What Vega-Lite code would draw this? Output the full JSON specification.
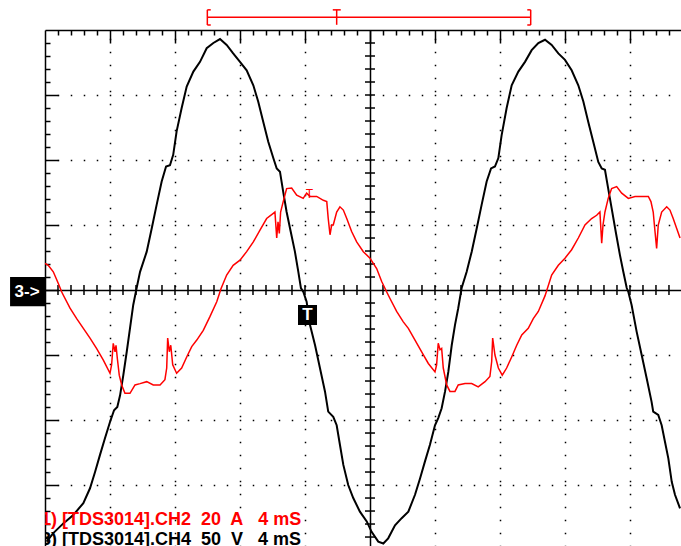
{
"$schema":"https://vega.github.io/schema/vega-lite/v6.json",
"width":636,"height":516,
"autosize":{"type":"none"},
"padding":{"left":45,"top":30,"right":0,"bottom":0},
"background":"white",
"config":{"view":{"stroke":null}},
"datasets":{
"black":[
{"t":0.10,"y":-3.87},{"t":0.51,"y":-3.74},{"t":1.13,"y":-3.59},{"t":1.74,"y":-3.46},{"t":2.36,"y":-3.28},{"t":2.77,"y":-3.05},{"t":3.08,"y":-2.80},{"t":3.38,"y":-2.54},{"t":3.69,"y":-2.28},{"t":4.00,"y":-2.03},{"t":4.25,"y":-1.85},{"t":4.45,"y":-1.80},{"t":4.62,"y":-1.62},{"t":4.82,"y":-1.31},{"t":5.03,"y":-0.95},{"t":5.23,"y":-0.59},{"t":5.43,"y":-0.23},{"t":5.64,"y":0.03},{"t":5.85,"y":0.28},{"t":6.26,"y":0.59},{"t":6.57,"y":0.95},{"t":6.87,"y":1.31},{"t":7.18,"y":1.67},{"t":7.45,"y":1.90},{"t":7.69,"y":1.92},{"t":7.89,"y":2.08},{"t":8.10,"y":2.44},{"t":8.41,"y":2.80},{"t":8.72,"y":3.13},{"t":9.13,"y":3.36},{"t":9.54,"y":3.51},{"t":9.95,"y":3.72},{"t":10.36,"y":3.80},{"t":10.77,"y":3.86},{"t":11.18,"y":3.77},{"t":11.58,"y":3.64},{"t":12.00,"y":3.51},{"t":12.41,"y":3.38},{"t":12.82,"y":3.15},{"t":13.12,"y":2.90},{"t":13.43,"y":2.59},{"t":13.74,"y":2.28},{"t":14.05,"y":2.03},{"t":14.26,"y":1.87},{"t":14.46,"y":1.82},{"t":14.66,"y":1.51},{"t":14.87,"y":1.20},{"t":15.12,"y":0.90},{"t":15.38,"y":0.59},{"t":15.59,"y":0.28},{"t":15.75,"y":0.03},{"t":15.90,"y":-0.03},{"t":16.10,"y":-0.18},{"t":16.31,"y":-0.54},{"t":16.62,"y":-0.85},{"t":16.92,"y":-1.20},{"t":17.23,"y":-1.56},{"t":17.43,"y":-1.87},{"t":17.74,"y":-1.95},{"t":17.95,"y":-2.08},{"t":18.15,"y":-2.38},{"t":18.36,"y":-2.69},{"t":18.66,"y":-3.00},{"t":18.97,"y":-3.20},{"t":19.38,"y":-3.41},{"t":19.80,"y":-3.56},{"t":20.10,"y":-3.72},{"t":20.51,"y":-3.87},{"t":20.82,"y":-3.90},{"t":21.12,"y":-3.82},{"t":21.54,"y":-3.62},{"t":21.95,"y":-3.51},{"t":22.36,"y":-3.41},{"t":22.77,"y":-3.15},{"t":23.08,"y":-2.90},{"t":23.38,"y":-2.64},{"t":23.69,"y":-2.38},{"t":24.00,"y":-2.08},{"t":24.20,"y":-1.97},{"t":24.41,"y":-1.82},{"t":24.62,"y":-1.56},{"t":24.82,"y":-1.26},{"t":25.03,"y":-0.85},{"t":25.23,"y":-0.54},{"t":25.43,"y":-0.28},{"t":25.64,"y":0.03},{"t":25.95,"y":0.28},{"t":26.26,"y":0.59},{"t":26.57,"y":0.95},{"t":26.87,"y":1.31},{"t":27.18,"y":1.67},{"t":27.45,"y":1.87},{"t":27.69,"y":1.90},{"t":27.90,"y":2.03},{"t":28.10,"y":2.38},{"t":28.41,"y":2.80},{"t":28.72,"y":3.15},{"t":29.13,"y":3.36},{"t":29.54,"y":3.51},{"t":29.95,"y":3.69},{"t":30.36,"y":3.80},{"t":30.77,"y":3.85},{"t":31.18,"y":3.77},{"t":31.59,"y":3.64},{"t":32.00,"y":3.54},{"t":32.41,"y":3.38},{"t":32.82,"y":3.15},{"t":33.13,"y":2.90},{"t":33.43,"y":2.59},{"t":33.74,"y":2.28},{"t":34.05,"y":1.97},{"t":34.26,"y":1.87},{"t":34.46,"y":1.85},{"t":34.66,"y":1.56},{"t":34.87,"y":1.26},{"t":35.12,"y":0.90},{"t":35.38,"y":0.54},{"t":35.59,"y":0.28},{"t":35.80,"y":0.03},{"t":35.90,"y":-0.03},{"t":36.10,"y":-0.23},{"t":36.41,"y":-0.64},{"t":36.72,"y":-1.00},{"t":37.03,"y":-1.36},{"t":37.33,"y":-1.72},{"t":37.43,"y":-1.87},{"t":37.74,"y":-1.92},{"t":37.95,"y":-2.08},{"t":38.15,"y":-2.33},{"t":38.36,"y":-2.59},{"t":38.57,"y":-2.95},{"t":38.77,"y":-3.15},{"t":39.08,"y":-3.36}
],
"red":[
{"t":0.00,"y":0.41},{"t":0.20,"y":0.38},{"t":0.51,"y":0.28},{"t":0.82,"y":0.10},{"t":1.03,"y":-0.03},{"t":1.13,"y":-0.08},{"t":1.54,"y":-0.28},{"t":1.95,"y":-0.44},{"t":2.36,"y":-0.59},{"t":2.77,"y":-0.74},{"t":3.18,"y":-0.90},{"t":3.59,"y":-1.08},{"t":4.00,"y":-1.28},{"t":4.10,"y":-1.15},{"t":4.20,"y":-0.82},{"t":4.31,"y":-0.95},{"t":4.37,"y":-0.85},{"t":4.45,"y":-1.05},{"t":4.57,"y":-1.31},{"t":4.72,"y":-1.46},{"t":4.92,"y":-1.59},{"t":5.23,"y":-1.59},{"t":5.54,"y":-1.46},{"t":5.85,"y":-1.44},{"t":6.26,"y":-1.41},{"t":6.66,"y":-1.46},{"t":7.08,"y":-1.46},{"t":7.38,"y":-1.38},{"t":7.49,"y":-1.20},{"t":7.55,"y":-0.74},{"t":7.65,"y":-0.95},{"t":7.74,"y":-0.85},{"t":7.86,"y":-1.15},{"t":8.10,"y":-1.28},{"t":8.41,"y":-1.20},{"t":8.72,"y":-1.03},{"t":9.03,"y":-0.87},{"t":9.34,"y":-0.77},{"t":9.74,"y":-0.62},{"t":10.15,"y":-0.41},{"t":10.57,"y":-0.18},{"t":10.83,"y":0.02},{"t":11.18,"y":0.23},{"t":11.58,"y":0.38},{"t":12.00,"y":0.46},{"t":12.41,"y":0.59},{"t":12.82,"y":0.74},{"t":13.23,"y":0.92},{"t":13.64,"y":1.10},{"t":14.05,"y":1.18},{"t":14.15,"y":1.20},{"t":14.26,"y":0.80},{"t":14.34,"y":1.05},{"t":14.42,"y":0.87},{"t":14.50,"y":1.20},{"t":14.66,"y":1.36},{"t":14.87,"y":1.56},{"t":15.18,"y":1.57},{"t":15.49,"y":1.46},{"t":15.89,"y":1.41},{"t":16.10,"y":1.49},{"t":16.31,"y":1.44},{"t":16.72,"y":1.44},{"t":17.13,"y":1.38},{"t":17.34,"y":1.36},{"t":17.43,"y":1.10},{"t":17.54,"y":0.85},{"t":17.64,"y":1.00},{"t":17.74,"y":1.00},{"t":17.95,"y":1.20},{"t":18.15,"y":1.28},{"t":18.36,"y":1.23},{"t":18.57,"y":1.10},{"t":18.87,"y":0.90},{"t":19.18,"y":0.74},{"t":19.59,"y":0.59},{"t":20.00,"y":0.49},{"t":20.41,"y":0.33},{"t":20.72,"y":0.13},{"t":21.03,"y":-0.03},{"t":21.23,"y":-0.13},{"t":21.64,"y":-0.33},{"t":22.05,"y":-0.49},{"t":22.36,"y":-0.59},{"t":22.77,"y":-0.77},{"t":23.18,"y":-0.95},{"t":23.59,"y":-1.13},{"t":24.00,"y":-1.26},{"t":24.10,"y":-1.15},{"t":24.20,"y":-0.82},{"t":24.31,"y":-0.92},{"t":24.41,"y":-0.90},{"t":24.51,"y":-1.20},{"t":24.72,"y":-1.46},{"t":24.92,"y":-1.56},{"t":25.23,"y":-1.56},{"t":25.43,"y":-1.46},{"t":25.85,"y":-1.44},{"t":26.26,"y":-1.44},{"t":26.66,"y":-1.49},{"t":27.08,"y":-1.41},{"t":27.38,"y":-1.33},{"t":27.49,"y":-1.10},{"t":27.55,"y":-0.74},{"t":27.69,"y":-1.00},{"t":27.90,"y":-1.20},{"t":28.14,"y":-1.31},{"t":28.41,"y":-1.20},{"t":28.72,"y":-1.03},{"t":29.03,"y":-0.85},{"t":29.34,"y":-0.69},{"t":29.74,"y":-0.59},{"t":30.05,"y":-0.44},{"t":30.36,"y":-0.33},{"t":30.77,"y":-0.09},{"t":31.18,"y":0.23},{"t":31.59,"y":0.38},{"t":32.00,"y":0.49},{"t":32.41,"y":0.62},{"t":32.82,"y":0.80},{"t":33.23,"y":1.00},{"t":33.64,"y":1.10},{"t":33.95,"y":1.15},{"t":34.15,"y":1.20},{"t":34.26,"y":0.72},{"t":34.34,"y":1.00},{"t":34.46,"y":1.20},{"t":34.66,"y":1.41},{"t":34.87,"y":1.56},{"t":35.18,"y":1.59},{"t":35.49,"y":1.49},{"t":35.90,"y":1.41},{"t":36.31,"y":1.44},{"t":36.72,"y":1.44},{"t":37.13,"y":1.44},{"t":37.29,"y":1.36},{"t":37.43,"y":1.20},{"t":37.54,"y":0.90},{"t":37.64,"y":0.64},{"t":37.74,"y":1.00},{"t":37.95,"y":1.20},{"t":38.26,"y":1.28},{"t":38.46,"y":1.23},{"t":38.66,"y":1.10},{"t":38.87,"y":0.95},{"t":39.08,"y":0.80}
],
"xticks":[{"t":0.8},{"t":1.6},{"t":2.4},{"t":3.2},{"t":4},{"t":4.8},{"t":5.6},{"t":6.4},{"t":7.2},{"t":8},{"t":8.8},{"t":9.6},{"t":10.4},{"t":11.2},{"t":12},{"t":12.8},{"t":13.6},{"t":14.4},{"t":15.2},{"t":16},{"t":16.8},{"t":17.6},{"t":18.4},{"t":19.2},{"t":20.8},{"t":21.6},{"t":22.4},{"t":23.2},{"t":24},{"t":24.8},{"t":25.6},{"t":26.4},{"t":27.2},{"t":28},{"t":28.8},{"t":29.6},{"t":30.4},{"t":31.2},{"t":32},{"t":32.8},{"t":33.6},{"t":34.4},{"t":35.2},{"t":36},{"t":36.8},{"t":37.6},{"t":38.4}],
"yticks":[{"v":-3.8},{"v":-3.6},{"v":-3.4},{"v":-3.2},{"v":-3},{"v":-2.8},{"v":-2.6},{"v":-2.4},{"v":-2.2},{"v":-2},{"v":-1.8},{"v":-1.6},{"v":-1.4},{"v":-1.2},{"v":-1},{"v":-0.8},{"v":-0.6},{"v":-0.4},{"v":-0.2},{"v":0.2},{"v":0.4},{"v":0.6},{"v":0.8},{"v":1},{"v":1.2},{"v":1.4},{"v":1.6},{"v":1.8},{"v":2},{"v":2.2},{"v":2.4},{"v":2.6},{"v":2.8},{"v":3},{"v":3.2},{"v":3.4},{"v":3.6},{"v":3.8}]
},
"layer":[
{"data":{"name":"black"},
 "mark":{"type":"line","color":"black","strokeWidth":2,"clip":true},
 "encoding":{
  "x":{"field":"t","type":"quantitative","scale":{"domain":[0,39.14],"nice":false,"zero":false},
   "axis":{"orient":"top","title":null,"labels":false,
    "values":[0.8,1.6,2.4,3.2,4,4.8,5.6,6.4,7.2,8,8.8,9.6,10.4,11.2,12,12.8,13.6,14.4,15.2,16,16.8,17.6,18.4,19.2,20,20.8,21.6,22.4,23.2,24,24.8,25.6,26.4,27.2,28,28.8,29.6,30.4,31.2,32,32.8,33.6,34.4,35.2,36,36.8,37.6,38.4],
    "domain":true,"domainColor":"black","domainWidth":1.5,
    "ticks":true,"tickColor":"black","tickWidth":1.5,
    "tickSize":{"condition":{"test":"abs(datum.value/4-round(datum.value/4))<0.01","value":-13},"value":-5},
    "grid":true,"gridColor":"black","gridWidth":1.5,"gridDashOffset":0.75,
    "gridDash":{"condition":{"test":"abs(datum.value-20)<0.01","value":[]},"value":[1.5,11.5]},
    "gridOpacity":{"condition":{"test":"abs(datum.value/4-round(datum.value/4))<0.01","value":1},"value":0}}},
  "y":{"field":"y","type":"quantitative","scale":{"domain":[-3.938,4],"nice":false,"zero":false},
   "axis":{"orient":"left","title":null,"labels":false,
    "values":[-3.8,-3.6,-3.4,-3.2,-3,-2.8,-2.6,-2.4,-2.2,-2,-1.8,-1.6,-1.4,-1.2,-1,-0.8,-0.6,-0.4,-0.2,0,0.2,0.4,0.6,0.8,1,1.2,1.4,1.6,1.8,2,2.2,2.4,2.6,2.8,3,3.2,3.4,3.6,3.8],
    "domain":true,"domainColor":"black","domainWidth":1.5,
    "ticks":true,"tickColor":"black","tickWidth":1.5,
    "tickSize":{"condition":{"test":"abs(datum.value-round(datum.value))<0.01","value":-13},"value":-5},
    "grid":true,"gridColor":"black","gridWidth":1.5,"gridDashOffset":0.75,
    "gridDash":{"condition":{"test":"abs(datum.value)<0.01","value":[]},"value":[1.5,11.5]},
    "gridOpacity":{"condition":{"test":"abs(datum.value-round(datum.value))<0.01","value":1},"value":0}}}
 }},
{"data":{"name":"xticks"},
 "mark":{"type":"tick","orient":"vertical","size":10,"thickness":1.5,"color":"black","opacity":1},
 "encoding":{"x":{"field":"t","type":"quantitative","axis":null},"y":{"datum":0,"type":"quantitative","axis":null}}},
{"data":{"name":"yticks"},
 "mark":{"type":"tick","orient":"horizontal","size":10,"thickness":1.5,"color":"black","opacity":1},
 "encoding":{"y":{"field":"v","type":"quantitative","axis":null},"x":{"datum":20,"type":"quantitative","axis":null}}},
{"data":{"name":"red"},
 "mark":{"type":"line","color":"#ff0000","strokeWidth":1.5,"clip":true},
 "encoding":{
  "x":{"field":"t","type":"quantitative","axis":null},
  "y":{"field":"y","type":"quantitative","axis":null}
 }},
{"data":{"values":[{"x":-2.15,"x2":0,"y":0.2,"y2":-0.25},{"x":15.57,"x2":16.74,"y":-0.23,"y2":-0.54}]},
 "mark":{"type":"rect","color":"black","clip":false},
 "encoding":{"x":{"field":"x","type":"quantitative","axis":null},"x2":{"field":"x2"},"y":{"field":"y","type":"quantitative","axis":null},"y2":{"field":"y2"}}},
{"data":{"values":[{"x":-1.1,"y":-0.03,"label":"3->"}]},
 "mark":{"type":"text","color":"white","font":"Liberation Sans","fontWeight":"bold","fontSize":17,"align":"center","baseline":"middle","clip":false},
 "encoding":{"x":{"field":"x","type":"quantitative","axis":null},"y":{"field":"y","type":"quantitative","axis":null},"text":{"field":"label"}}},
{"data":{"values":[{"x":16.15,"y":-0.385,"label":"T"}]},
 "mark":{"type":"text","color":"white","font":"Liberation Sans","fontWeight":"bold","fontSize":17,"align":"center","baseline":"middle","clip":false},
 "encoding":{"x":{"field":"x","type":"quantitative","axis":null},"y":{"field":"y","type":"quantitative","axis":null},"text":{"field":"label"}}},
{"data":{"values":[{"x":16.28,"y":1.48,"label":"T"}]},
 "mark":{"type":"text","color":"#ff0000","font":"Liberation Sans","fontSize":12,"align":"center","baseline":"middle"},
 "encoding":{"x":{"field":"x","type":"quantitative","axis":null},"y":{"field":"y","type":"quantitative","axis":null},"text":{"field":"label"}}},
{"data":{"values":[
  {"x":9.99,"x2":29.89,"y":4.195,"y2":4.195},
  {"x":9.99,"x2":9.99,"y":4.31,"y2":4.077},
  {"x":9.99,"x2":10.2,"y":4.31,"y2":4.31},
  {"x":9.99,"x2":10.2,"y":4.077,"y2":4.077},
  {"x":29.89,"x2":29.89,"y":4.31,"y2":4.077},
  {"x":29.68,"x2":29.89,"y":4.31,"y2":4.31},
  {"x":29.68,"x2":29.89,"y":4.077,"y2":4.077},
  {"x":17.95,"x2":17.95,"y":4.31,"y2":4.08},
  {"x":17.71,"x2":18.2,"y":4.31,"y2":4.31}
 ]},
 "mark":{"type":"rule","color":"#ff0000","strokeWidth":1.5,"clip":false},
 "encoding":{"x":{"field":"x","type":"quantitative","axis":null},"x2":{"field":"x2"},"y":{"field":"y","type":"quantitative","axis":null},"y2":{"field":"y2"}}},
{"data":{"values":[{"x":-0.25,"y":-3.615,"label":"1) [TDS3014].CH2\u00a0 20\u00a0 A\u00a0\u00a0 4 mS"}]},
 "mark":{"type":"text","color":"#ff0000","font":"Liberation Sans","fontWeight":"bold","fontSize":18,"align":"left","baseline":"alphabetic","clip":true},
 "encoding":{"x":{"field":"x","type":"quantitative","axis":null},"y":{"field":"y","type":"quantitative","axis":null},"text":{"field":"label"}}},
{"data":{"values":[{"x":-0.25,"y":-3.93,"label":"3) [TDS3014].CH4\u00a0 50\u00a0 V\u00a0\u00a0 4 mS"}]},
 "mark":{"type":"text","color":"black","font":"Liberation Sans","fontWeight":"bold","fontSize":18,"align":"left","baseline":"alphabetic","clip":true},
 "encoding":{"x":{"field":"x","type":"quantitative","axis":null},"y":{"field":"y","type":"quantitative","axis":null},"text":{"field":"label"}}}
],
"resolve":{"axis":{"x":"independent","y":"independent"}}
}
